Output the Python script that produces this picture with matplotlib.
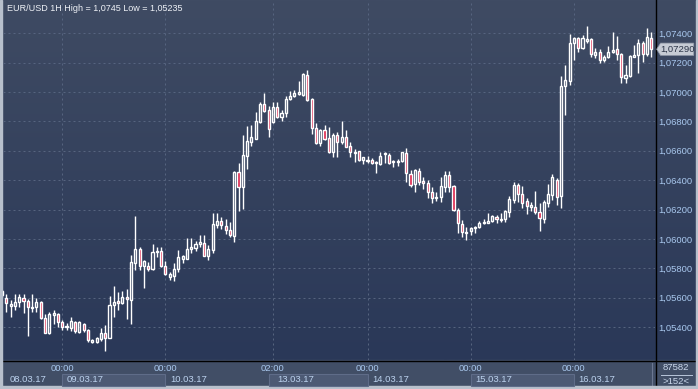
import numpy as np
import matplotlib
matplotlib.use("Agg")
import matplotlib.pyplot as plt
from matplotlib.patches import Rectangle, Polygon
from matplotlib.ticker import FuncFormatter
import matplotlib.transforms as mtransforms

plt.rcParams['font.family'] = ['Liberation Sans', 'DejaVu Sans']

# EUR/USD hourly candles
opens = [1.05619, 1.05597, 1.05546, 1.05546, 1.05569, 1.05599, 1.05578, 1.05533, 1.05535, 1.05571,
         1.05461, 1.05359, 1.05485, 1.05488, 1.05433, 1.05403, 1.05397, 1.05437, 1.05369, 1.05420,
         1.05381, 1.05301, 1.05301, 1.05322, 1.05359, 1.05329, 1.05551, 1.05578, 1.05563, 1.05603,
         1.05585, 1.05839, 1.05930, 1.05816, 1.05816, 1.05796, 1.05909, 1.05920, 1.05816, 1.05743,
         1.05748, 1.05794, 1.05866, 1.05866, 1.05932, 1.05939, 1.05964, 1.05975, 1.05884, 1.05925,
         1.06093, 1.06124, 1.06090, 1.06061, 1.06022, 1.06455, 1.06351, 1.06566, 1.06661, 1.06682,
         1.06797, 1.06918, 1.06877, 1.06795, 1.06895, 1.06827, 1.06855, 1.06950, 1.06972, 1.06988,
         1.06981, 1.07115, 1.06950, 1.06753, 1.06651, 1.06741, 1.06685, 1.06593, 1.06707, 1.06661,
         1.06691, 1.06632, 1.06587, 1.06596, 1.06537, 1.06530, 1.06537, 1.06519, 1.06510, 1.06576,
         1.06573, 1.06525, 1.06525, 1.06532, 1.06587, 1.06440, 1.06374, 1.06462, 1.06394, 1.06379,
         1.06321, 1.06281, 1.06283, 1.06355, 1.06435, 1.06360, 1.06197, 1.06102, 1.06043, 1.06054,
         1.06075, 1.06079, 1.06107, 1.06111, 1.06122, 1.06151, 1.06129, 1.06134, 1.06185, 1.06265,
         1.06367, 1.06304, 1.06258, 1.06219, 1.06215, 1.06181, 1.06136, 1.06247, 1.06299, 1.06401,
         1.06294, 1.07040, 1.07076, 1.07331, 1.07365, 1.07297, 1.07348, 1.07362, 1.07251, 1.07273,
         1.07217, 1.07235, 1.07269, 1.07290, 1.07256, 1.07093, 1.07108, 1.07239, 1.07251, 1.07331,
         1.07256, 1.07365]
highs = [1.05653, 1.05624, 1.05585, 1.05624, 1.05624, 1.05624, 1.05592, 1.05624, 1.05597, 1.05578,
         1.05488, 1.05505, 1.05517, 1.05499, 1.05449, 1.05427, 1.05471, 1.05444, 1.05444, 1.05431,
         1.05386, 1.05320, 1.05335, 1.05393, 1.05415, 1.05614, 1.05680, 1.05641, 1.05648, 1.05658,
         1.05891, 1.06158, 1.05947, 1.05857, 1.05845, 1.05964, 1.05947, 1.05947, 1.05850, 1.05775,
         1.05835, 1.05925, 1.05891, 1.06005, 1.06009, 1.05988, 1.06029, 1.06029, 1.05959, 1.06179,
         1.06179, 1.06151, 1.06134, 1.06115, 1.06462, 1.06519, 1.06707, 1.06768, 1.06775, 1.06863,
         1.06929, 1.06991, 1.06906, 1.06929, 1.06929, 1.06877, 1.06972, 1.07008, 1.07013, 1.07074,
         1.07131, 1.07149, 1.06957, 1.06791, 1.06748, 1.06775, 1.06763, 1.06719, 1.06729, 1.06802,
         1.06741, 1.06661, 1.06610, 1.06598, 1.06559, 1.06564, 1.06549, 1.06532, 1.06589, 1.06589,
         1.06583, 1.06537, 1.06542, 1.06593, 1.06619, 1.06469, 1.06474, 1.06485, 1.06423, 1.06401,
         1.06355, 1.06321, 1.06423, 1.06462, 1.06462, 1.06367, 1.06209, 1.06129, 1.06083, 1.06083,
         1.06086, 1.06124, 1.06134, 1.06175, 1.06163, 1.06160, 1.06175, 1.06197, 1.06292, 1.06389,
         1.06383, 1.06360, 1.06281, 1.06253, 1.06326, 1.06247, 1.06265, 1.06372, 1.06442, 1.06413,
         1.07108, 1.07183, 1.07394, 1.07375, 1.07371, 1.07387, 1.07450, 1.07368, 1.07297, 1.07290,
         1.07251, 1.07312, 1.07405, 1.07380, 1.07263, 1.07183, 1.07251, 1.07319, 1.07360, 1.07348,
         1.07433, 1.07409]
lows = [1.05605, 1.05505, 1.05471, 1.05517, 1.05535, 1.05495, 1.05342, 1.05501, 1.05501, 1.05456,
        1.05359, 1.05355, 1.05422, 1.05403, 1.05381, 1.05381, 1.05376, 1.05363, 1.05359, 1.05369,
        1.05301, 1.05295, 1.05291, 1.05308, 1.05235, 1.05325, 1.05467, 1.05517, 1.05558, 1.05454,
        1.05420, 1.05789, 1.05789, 1.05665, 1.05784, 1.05789, 1.05875, 1.05811, 1.05755, 1.05721,
        1.05716, 1.05777, 1.05835, 1.05862, 1.05903, 1.05920, 1.05947, 1.05884, 1.05857, 1.05903,
        1.06073, 1.06066, 1.06034, 1.06011, 1.05979, 1.06192, 1.06206, 1.06478, 1.06634, 1.06678,
        1.06791, 1.06865, 1.06695, 1.06791, 1.06821, 1.06804, 1.06831, 1.06945, 1.06967, 1.06979,
        1.06972, 1.06938, 1.06714, 1.06646, 1.06632, 1.06673, 1.06583, 1.06559, 1.06555, 1.06644,
        1.06623, 1.06559, 1.06525, 1.06532, 1.06510, 1.06515, 1.06510, 1.06451, 1.06503, 1.06519,
        1.06510, 1.06491, 1.06498, 1.06525, 1.06389, 1.06351, 1.06321, 1.06367, 1.06338, 1.06281,
        1.06247, 1.06260, 1.06253, 1.06321, 1.06321, 1.06192, 1.06039, 1.06015, 1.05993, 1.06027,
        1.06039, 1.06073, 1.06102, 1.06107, 1.06115, 1.06107, 1.06117, 1.06117, 1.06151, 1.06247,
        1.06253, 1.06209, 1.06168, 1.06192, 1.06170, 1.06056, 1.06111, 1.06219, 1.06265, 1.06231,
        1.06213, 1.06843, 1.07047, 1.07217, 1.07273, 1.07292, 1.07335, 1.07235, 1.07229, 1.07195,
        1.07205, 1.07229, 1.07263, 1.07217, 1.07059, 1.07063, 1.07103, 1.07235, 1.07127, 1.07205,
        1.07244, 1.07235]
closes = [1.05646, 1.05563, 1.05556, 1.05569, 1.05603, 1.05580, 1.05535, 1.05539, 1.05573, 1.05461,
          1.05363, 1.05488, 1.05495, 1.05433, 1.05401, 1.05410, 1.05442, 1.05374, 1.05433, 1.05381,
          1.05313, 1.05313, 1.05325, 1.05359, 1.05329, 1.05549, 1.05569, 1.05563, 1.05603, 1.05590,
          1.05841, 1.05930, 1.05816, 1.05850, 1.05794, 1.05913, 1.05920, 1.05818, 1.05762, 1.05760,
          1.05798, 1.05875, 1.05884, 1.05934, 1.05945, 1.05966, 1.05979, 1.05886, 1.05930, 1.06100,
          1.06122, 1.06095, 1.06061, 1.06027, 1.06455, 1.06351, 1.06571, 1.06666, 1.06691, 1.06802,
          1.06918, 1.06872, 1.06746, 1.06895, 1.06827, 1.06857, 1.06950, 1.06972, 1.06995, 1.06999,
          1.07122, 1.06945, 1.06753, 1.06651, 1.06741, 1.06680, 1.06593, 1.06707, 1.06661, 1.06691,
          1.06627, 1.06589, 1.06593, 1.06537, 1.06555, 1.06537, 1.06515, 1.06525, 1.06564, 1.06583,
          1.06519, 1.06532, 1.06532, 1.06589, 1.06447, 1.06367, 1.06469, 1.06385, 1.06379, 1.06317,
          1.06281, 1.06287, 1.06360, 1.06435, 1.06355, 1.06197, 1.06107, 1.06045, 1.06049, 1.06077,
          1.06083, 1.06107, 1.06117, 1.06122, 1.06156, 1.06134, 1.06136, 1.06190, 1.06272, 1.06367,
          1.06304, 1.06247, 1.06226, 1.06231, 1.06181, 1.06141, 1.06249, 1.06306, 1.06419, 1.06287,
          1.07040, 1.07081, 1.07335, 1.07365, 1.07297, 1.07365, 1.07360, 1.07256, 1.07273, 1.07217,
          1.07235, 1.07269, 1.07285, 1.07256, 1.07099, 1.07115, 1.07244, 1.07251, 1.07331, 1.07256,
          1.07371, 1.07290]

price_ticks = [1.054, 1.056, 1.058, 1.060, 1.062, 1.064, 1.066, 1.068, 1.070, 1.072, 1.074]
tick_idx = [14, 38, 63, 85, 109, 133]
tick_times = ["00:00", "00:00", "02:00", "00:00", "00:00", "00:00"]
day_starts = [0, 14, 38, 62, 85, 109, 133]
day_labels = ["08.03.17", "09.03.17", "10.03.17", "13.03.17", "14.03.17", "15.03.17", "16.03.17"]
title = "EUR/USD 1H High = 1,0745 Low = 1,05235"
last_price = 1.07290
bar_count = ">152<"
volume_text = "87582"

W, H = 698, 389
fig = plt.figure(figsize=(W / 100, H / 100), dpi=100)

# background gradient and frame, in pixel coordinates
bg = fig.add_axes([0, 0, 1, 1])
bg.set_xlim(0, W)
bg.set_ylim(H, 0)
bg.axis("off")
top = np.array([63, 75, 99]) / 255
bot = np.array([42, 56, 88]) / 255
t = np.linspace(0, 1, 256)[:, None]
grad = (top[None, :] * (1 - t) + bot[None, :] * t)[:, None, :]
bg.imshow(grad, extent=[0, W, 360, 0], aspect="auto", zorder=0)
bg.add_patch(Rectangle((0, 360), W, 29, color="#414e66", zorder=1))
bg.plot([0, W], [360.5, 360.5], color="black", lw=1.0, zorder=3)
bg.plot([655.5, 655.5], [0, 386], color="black", lw=1.0, zorder=3)
bg.plot([651.5, 651.5], [363, 385], color="#6b7791", lw=0.8, zorder=3)
bg.plot([661, 692], [375, 375], color="#b9c6da", lw=0.7, zorder=3)
bg.text(676, 368, volume_text, color="#c9d6ea", fontsize=6.8, ha="center", va="center")
bg.text(676, 381, bar_count, color="#c9d6ea", fontsize=6.8, ha="center", va="center")
# light outer border
bg.add_patch(Rectangle((0, 0), 2, H, color="#b8c0cc", zorder=4))
bg.add_patch(Rectangle((W - 2, 0), 2, H, color="#b8c0cc", zorder=4))
bg.add_patch(Rectangle((0, H - 3), W, 3, color="#b8c0cc", zorder=4))

ax = fig.add_axes([3 / W, 29 / H, 652 / W, 360 / H])
ax.set_facecolor("none")
ax.set_xlim(0.23, 151.86)
ax.set_ylim(1.05177, 1.07625)
for s in ax.spines.values():
    s.set_visible(False)

ax.set_yticks(price_ticks)
ax.yaxis.tick_right()
ax.yaxis.set_major_formatter(FuncFormatter(lambda v, _: f"{v:.5f}".replace(".", ",")))
ax.set_xticks(tick_idx)
ax.set_xticklabels(tick_times)
ax.tick_params(axis="both", length=0, labelsize=6.8, labelcolor="#a9c8ee")
ax.tick_params(axis="y", pad=2.2)
ax.tick_params(axis="x", pad=3.2)
ax.grid(True, color="#56647f", lw=0.72, linestyle=(0, (2, 3)))
ax.set_axisbelow(True)

# candles
x = np.arange(len(opens))
o = np.array(opens)
c = np.array(closes)
hi = np.array(highs)
lo = np.array(lows)
body_top = np.maximum(o, c)
body_bot = np.minimum(o, c)
ax.vlines(x, body_top, hi, color="white", lw=1.0, zorder=3)
ax.vlines(x, lo, body_bot, color="white", lw=1.0, zorder=3)
face = ["#dc1e46" if cc < oo else "none" for oo, cc in zip(o, c)]
ax.bar(x, body_top - body_bot, bottom=body_bot, width=0.5, color=face,
       edgecolor="white", linewidth=1.0, zorder=4)

# date labels under the time ticks
blend = mtransforms.blended_transform_factory(ax.transData, ax.transAxes)
for k, (d0, lab) in enumerate(zip(day_starts, day_labels)):
    d1 = day_starts[k + 1] if k + 1 < len(day_starts) else 151.86
    if k % 2 == 1:
        ax.add_patch(Rectangle((d0, -26 / 360), d1 - d0, 12 / 360, transform=blend,
                               facecolor="#4d5a74", edgecolor="#5f6c88", lw=0.8,
                               clip_on=False, zorder=2))
    tx = tick_idx[k - 1] + 1.05 if k > 0 else 1.86
    ax.text(tx, -19.5 / 360, lab, transform=blend, fontsize=6.8, color="#bcd2ee",
            ha="left", va="center", clip_on=False)

# title
ax.text(4 / 652, 1 - 8.5 / 360, title, transform=ax.transAxes, fontsize=6.5,
        color="#eef1f6", ha="left", va="center")

# last price marker
blend_y = mtransforms.blended_transform_factory(ax.transAxes, ax.transData)
hh = 0.00042
x0, x1, x2 = 1.0025, 1.0085, 1.0595
ax.add_patch(Polygon([[x0, last_price], [x1, last_price + hh], [x2, last_price + hh],
                      [x2, last_price - hh], [x1, last_price - hh]], closed=True,
                     transform=blend_y, facecolor="#c6cbd4", edgecolor="#8e96a6", lw=0.5,
                     clip_on=False, zorder=5))
ax.text((x1 + x2) / 2, last_price, f"{last_price:.5f}".replace(".", ","), transform=blend_y,
        fontsize=6.8, color="#2b3447", ha="center", va="center", clip_on=False, zorder=6)

fig.savefig("out.png", dpi=100)
